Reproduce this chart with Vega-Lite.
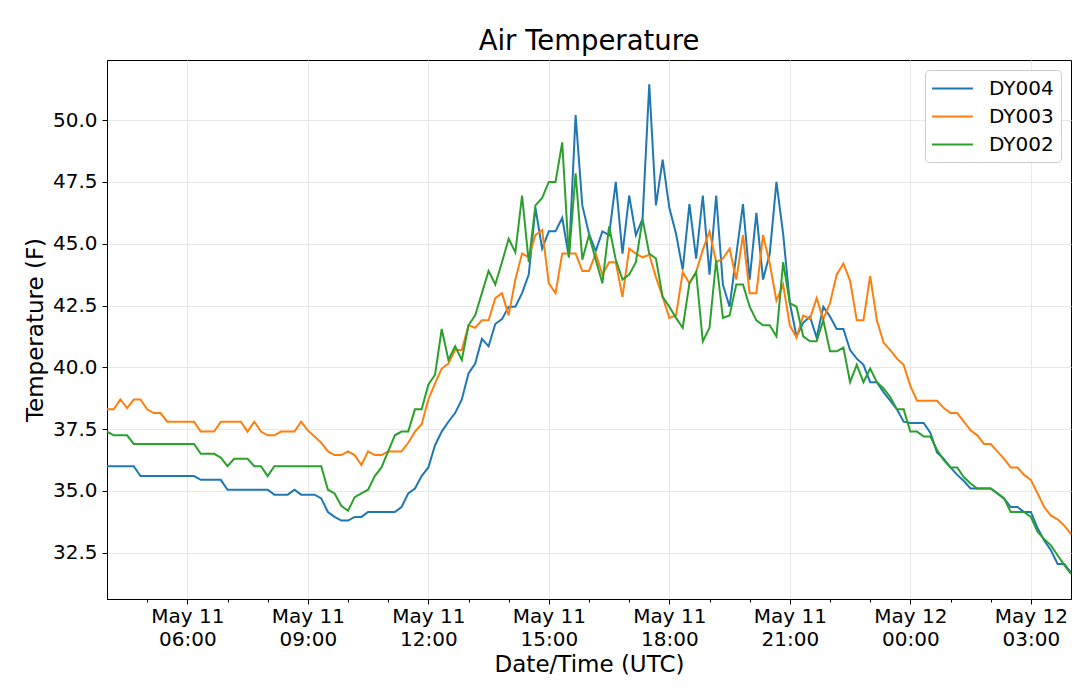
{
  "$schema": "https://vega.github.io/schema/vega-lite/v6.json",
  "width": 964,
  "height": 539,
  "autosize": {"type": "none"},
  "padding": {"left": 107, "top": 60, "right": 8, "bottom": 93},
  "title": {
    "text": "Air Temperature",
    "font": "DejaVu Sans",
    "fontSize": 27.5,
    "fontWeight": "normal",
    "color": "black",
    "offset": 5
  },
  "config": {
    "font": "DejaVu Sans",
    "view": {"stroke": "black", "strokeWidth": 1},
    "axis": {
      "labelFont": "DejaVu Sans",
      "titleFont": "DejaVu Sans",
      "labelFontSize": 20,
      "titleFontSize": 23,
      "titleFontWeight": "normal",
      "labelColor": "black",
      "titleColor": "black",
      "tickColor": "black",
      "domainColor": "black",
      "gridColor": "#e8e8e8",
      "gridWidth": 1
    }
  },
  "data": {
    "values": [
      {"time":"2019-05-11T04:00:00Z","sensor":"DY004","temp":36.0},{"time":"2019-05-11T04:10:00Z","sensor":"DY004","temp":36.0},{"time":"2019-05-11T04:20:00Z","sensor":"DY004","temp":36.0},{"time":"2019-05-11T04:30:00Z","sensor":"DY004","temp":36.0},{"time":"2019-05-11T04:40:00Z","sensor":"DY004","temp":36.0},{"time":"2019-05-11T04:50:00Z","sensor":"DY004","temp":35.6},
      {"time":"2019-05-11T05:00:00Z","sensor":"DY004","temp":35.6},{"time":"2019-05-11T05:10:00Z","sensor":"DY004","temp":35.6},{"time":"2019-05-11T05:20:00Z","sensor":"DY004","temp":35.6},{"time":"2019-05-11T05:30:00Z","sensor":"DY004","temp":35.6},{"time":"2019-05-11T05:40:00Z","sensor":"DY004","temp":35.6},{"time":"2019-05-11T05:50:00Z","sensor":"DY004","temp":35.6},
      {"time":"2019-05-11T06:00:00Z","sensor":"DY004","temp":35.6},{"time":"2019-05-11T06:10:00Z","sensor":"DY004","temp":35.6},{"time":"2019-05-11T06:20:00Z","sensor":"DY004","temp":35.45},{"time":"2019-05-11T06:30:00Z","sensor":"DY004","temp":35.45},{"time":"2019-05-11T06:40:00Z","sensor":"DY004","temp":35.45},{"time":"2019-05-11T06:50:00Z","sensor":"DY004","temp":35.45},
      {"time":"2019-05-11T07:00:00Z","sensor":"DY004","temp":35.05},{"time":"2019-05-11T07:10:00Z","sensor":"DY004","temp":35.05},{"time":"2019-05-11T07:20:00Z","sensor":"DY004","temp":35.05},{"time":"2019-05-11T07:30:00Z","sensor":"DY004","temp":35.05},{"time":"2019-05-11T07:40:00Z","sensor":"DY004","temp":35.05},{"time":"2019-05-11T07:50:00Z","sensor":"DY004","temp":35.05},
      {"time":"2019-05-11T08:00:00Z","sensor":"DY004","temp":35.05},{"time":"2019-05-11T08:10:00Z","sensor":"DY004","temp":34.85},{"time":"2019-05-11T08:20:00Z","sensor":"DY004","temp":34.85},{"time":"2019-05-11T08:30:00Z","sensor":"DY004","temp":34.85},{"time":"2019-05-11T08:40:00Z","sensor":"DY004","temp":35.05},{"time":"2019-05-11T08:50:00Z","sensor":"DY004","temp":34.85},
      {"time":"2019-05-11T09:00:00Z","sensor":"DY004","temp":34.85},{"time":"2019-05-11T09:10:00Z","sensor":"DY004","temp":34.85},{"time":"2019-05-11T09:20:00Z","sensor":"DY004","temp":34.7},{"time":"2019-05-11T09:30:00Z","sensor":"DY004","temp":34.15},{"time":"2019-05-11T09:40:00Z","sensor":"DY004","temp":33.95},{"time":"2019-05-11T09:50:00Z","sensor":"DY004","temp":33.8},
      {"time":"2019-05-11T10:00:00Z","sensor":"DY004","temp":33.8},{"time":"2019-05-11T10:10:00Z","sensor":"DY004","temp":33.95},{"time":"2019-05-11T10:20:00Z","sensor":"DY004","temp":33.95},{"time":"2019-05-11T10:30:00Z","sensor":"DY004","temp":34.15},{"time":"2019-05-11T10:40:00Z","sensor":"DY004","temp":34.15},{"time":"2019-05-11T10:50:00Z","sensor":"DY004","temp":34.15},
      {"time":"2019-05-11T11:00:00Z","sensor":"DY004","temp":34.15},{"time":"2019-05-11T11:10:00Z","sensor":"DY004","temp":34.15},{"time":"2019-05-11T11:20:00Z","sensor":"DY004","temp":34.35},{"time":"2019-05-11T11:30:00Z","sensor":"DY004","temp":34.9},{"time":"2019-05-11T11:40:00Z","sensor":"DY004","temp":35.1},{"time":"2019-05-11T11:50:00Z","sensor":"DY004","temp":35.6},
      {"time":"2019-05-11T12:00:00Z","sensor":"DY004","temp":35.95},{"time":"2019-05-11T12:10:00Z","sensor":"DY004","temp":36.85},{"time":"2019-05-11T12:20:00Z","sensor":"DY004","temp":37.4},{"time":"2019-05-11T12:30:00Z","sensor":"DY004","temp":37.8},{"time":"2019-05-11T12:40:00Z","sensor":"DY004","temp":38.15},{"time":"2019-05-11T12:50:00Z","sensor":"DY004","temp":38.7},
      {"time":"2019-05-11T13:00:00Z","sensor":"DY004","temp":39.75},{"time":"2019-05-11T13:10:00Z","sensor":"DY004","temp":40.15},{"time":"2019-05-11T13:20:00Z","sensor":"DY004","temp":41.15},{"time":"2019-05-11T13:30:00Z","sensor":"DY004","temp":40.85},{"time":"2019-05-11T13:40:00Z","sensor":"DY004","temp":41.75},{"time":"2019-05-11T13:50:00Z","sensor":"DY004","temp":41.95},
      {"time":"2019-05-11T14:00:00Z","sensor":"DY004","temp":42.45},{"time":"2019-05-11T14:10:00Z","sensor":"DY004","temp":42.45},{"time":"2019-05-11T14:20:00Z","sensor":"DY004","temp":43.0},{"time":"2019-05-11T14:30:00Z","sensor":"DY004","temp":43.75},{"time":"2019-05-11T14:40:00Z","sensor":"DY004","temp":46.45},{"time":"2019-05-11T14:50:00Z","sensor":"DY004","temp":44.8},
      {"time":"2019-05-11T15:00:00Z","sensor":"DY004","temp":45.5},{"time":"2019-05-11T15:10:00Z","sensor":"DY004","temp":45.5},{"time":"2019-05-11T15:20:00Z","sensor":"DY004","temp":46.05},{"time":"2019-05-11T15:30:00Z","sensor":"DY004","temp":44.45},{"time":"2019-05-11T15:40:00Z","sensor":"DY004","temp":50.2},{"time":"2019-05-11T15:50:00Z","sensor":"DY004","temp":46.55},
      {"time":"2019-05-11T16:00:00Z","sensor":"DY004","temp":45.4},{"time":"2019-05-11T16:10:00Z","sensor":"DY004","temp":44.7},{"time":"2019-05-11T16:20:00Z","sensor":"DY004","temp":45.5},{"time":"2019-05-11T16:30:00Z","sensor":"DY004","temp":45.35},{"time":"2019-05-11T16:40:00Z","sensor":"DY004","temp":47.5},{"time":"2019-05-11T16:50:00Z","sensor":"DY004","temp":44.6},
      {"time":"2019-05-11T17:00:00Z","sensor":"DY004","temp":46.95},{"time":"2019-05-11T17:10:00Z","sensor":"DY004","temp":45.35},{"time":"2019-05-11T17:20:00Z","sensor":"DY004","temp":46.0},{"time":"2019-05-11T17:30:00Z","sensor":"DY004","temp":51.45},{"time":"2019-05-11T17:40:00Z","sensor":"DY004","temp":46.55},{"time":"2019-05-11T17:50:00Z","sensor":"DY004","temp":48.4},
      {"time":"2019-05-11T18:00:00Z","sensor":"DY004","temp":46.45},{"time":"2019-05-11T18:10:00Z","sensor":"DY004","temp":45.4},{"time":"2019-05-11T18:20:00Z","sensor":"DY004","temp":43.95},{"time":"2019-05-11T18:30:00Z","sensor":"DY004","temp":46.6},{"time":"2019-05-11T18:40:00Z","sensor":"DY004","temp":44.4},{"time":"2019-05-11T18:50:00Z","sensor":"DY004","temp":46.95},
      {"time":"2019-05-11T19:00:00Z","sensor":"DY004","temp":43.75},{"time":"2019-05-11T19:10:00Z","sensor":"DY004","temp":46.95},{"time":"2019-05-11T19:20:00Z","sensor":"DY004","temp":43.35},{"time":"2019-05-11T19:30:00Z","sensor":"DY004","temp":42.45},{"time":"2019-05-11T19:40:00Z","sensor":"DY004","temp":44.55},{"time":"2019-05-11T19:50:00Z","sensor":"DY004","temp":46.6},
      {"time":"2019-05-11T20:00:00Z","sensor":"DY004","temp":43.55},{"time":"2019-05-11T20:10:00Z","sensor":"DY004","temp":46.25},{"time":"2019-05-11T20:20:00Z","sensor":"DY004","temp":43.55},{"time":"2019-05-11T20:30:00Z","sensor":"DY004","temp":44.6},{"time":"2019-05-11T20:40:00Z","sensor":"DY004","temp":47.5},{"time":"2019-05-11T20:50:00Z","sensor":"DY004","temp":45.4},
      {"time":"2019-05-11T21:00:00Z","sensor":"DY004","temp":42.6},{"time":"2019-05-11T21:10:00Z","sensor":"DY004","temp":41.25},{"time":"2019-05-11T21:20:00Z","sensor":"DY004","temp":41.8},{"time":"2019-05-11T21:30:00Z","sensor":"DY004","temp":42.05},{"time":"2019-05-11T21:40:00Z","sensor":"DY004","temp":41.2},{"time":"2019-05-11T21:50:00Z","sensor":"DY004","temp":42.45},
      {"time":"2019-05-11T22:00:00Z","sensor":"DY004","temp":42.05},{"time":"2019-05-11T22:10:00Z","sensor":"DY004","temp":41.55},{"time":"2019-05-11T22:20:00Z","sensor":"DY004","temp":41.55},{"time":"2019-05-11T22:30:00Z","sensor":"DY004","temp":40.7},{"time":"2019-05-11T22:40:00Z","sensor":"DY004","temp":40.35},{"time":"2019-05-11T22:50:00Z","sensor":"DY004","temp":40.1},
      {"time":"2019-05-11T23:00:00Z","sensor":"DY004","temp":39.4},{"time":"2019-05-11T23:10:00Z","sensor":"DY004","temp":39.4},{"time":"2019-05-11T23:20:00Z","sensor":"DY004","temp":39.0},{"time":"2019-05-11T23:30:00Z","sensor":"DY004","temp":38.65},{"time":"2019-05-11T23:40:00Z","sensor":"DY004","temp":38.3},{"time":"2019-05-11T23:50:00Z","sensor":"DY004","temp":37.8},
      {"time":"2019-05-12T00:00:00Z","sensor":"DY004","temp":37.75},{"time":"2019-05-12T00:10:00Z","sensor":"DY004","temp":37.75},{"time":"2019-05-12T00:20:00Z","sensor":"DY004","temp":37.75},{"time":"2019-05-12T00:30:00Z","sensor":"DY004","temp":37.35},{"time":"2019-05-12T00:40:00Z","sensor":"DY004","temp":36.55},{"time":"2019-05-12T00:50:00Z","sensor":"DY004","temp":36.3},
      {"time":"2019-05-12T01:00:00Z","sensor":"DY004","temp":35.95},{"time":"2019-05-12T01:10:00Z","sensor":"DY004","temp":35.65},{"time":"2019-05-12T01:20:00Z","sensor":"DY004","temp":35.4},{"time":"2019-05-12T01:30:00Z","sensor":"DY004","temp":35.1},{"time":"2019-05-12T01:40:00Z","sensor":"DY004","temp":35.1},{"time":"2019-05-12T01:50:00Z","sensor":"DY004","temp":35.1},
      {"time":"2019-05-12T02:00:00Z","sensor":"DY004","temp":35.1},{"time":"2019-05-12T02:10:00Z","sensor":"DY004","temp":34.9},{"time":"2019-05-12T02:20:00Z","sensor":"DY004","temp":34.7},{"time":"2019-05-12T02:30:00Z","sensor":"DY004","temp":34.35},{"time":"2019-05-12T02:40:00Z","sensor":"DY004","temp":34.35},{"time":"2019-05-12T02:50:00Z","sensor":"DY004","temp":34.15},
      {"time":"2019-05-12T03:00:00Z","sensor":"DY004","temp":34.15},{"time":"2019-05-12T03:10:00Z","sensor":"DY004","temp":33.5},{"time":"2019-05-12T03:20:00Z","sensor":"DY004","temp":33.0},{"time":"2019-05-12T03:30:00Z","sensor":"DY004","temp":32.6},{"time":"2019-05-12T03:40:00Z","sensor":"DY004","temp":32.05},{"time":"2019-05-12T03:50:00Z","sensor":"DY004","temp":32.05},
      {"time":"2019-05-12T04:00:00Z","sensor":"DY004","temp":31.7},

      {"time":"2019-05-11T04:00:00Z","sensor":"DY003","temp":38.3},{"time":"2019-05-11T04:10:00Z","sensor":"DY003","temp":38.3},{"time":"2019-05-11T04:20:00Z","sensor":"DY003","temp":38.7},{"time":"2019-05-11T04:30:00Z","sensor":"DY003","temp":38.35},{"time":"2019-05-11T04:40:00Z","sensor":"DY003","temp":38.7},{"time":"2019-05-11T04:50:00Z","sensor":"DY003","temp":38.7},
      {"time":"2019-05-11T05:00:00Z","sensor":"DY003","temp":38.3},{"time":"2019-05-11T05:10:00Z","sensor":"DY003","temp":38.15},{"time":"2019-05-11T05:20:00Z","sensor":"DY003","temp":38.15},{"time":"2019-05-11T05:30:00Z","sensor":"DY003","temp":37.8},{"time":"2019-05-11T05:40:00Z","sensor":"DY003","temp":37.8},{"time":"2019-05-11T05:50:00Z","sensor":"DY003","temp":37.8},
      {"time":"2019-05-11T06:00:00Z","sensor":"DY003","temp":37.8},{"time":"2019-05-11T06:10:00Z","sensor":"DY003","temp":37.8},{"time":"2019-05-11T06:20:00Z","sensor":"DY003","temp":37.4},{"time":"2019-05-11T06:30:00Z","sensor":"DY003","temp":37.4},{"time":"2019-05-11T06:40:00Z","sensor":"DY003","temp":37.4},{"time":"2019-05-11T06:50:00Z","sensor":"DY003","temp":37.8},
      {"time":"2019-05-11T07:00:00Z","sensor":"DY003","temp":37.8},{"time":"2019-05-11T07:10:00Z","sensor":"DY003","temp":37.8},{"time":"2019-05-11T07:20:00Z","sensor":"DY003","temp":37.8},{"time":"2019-05-11T07:30:00Z","sensor":"DY003","temp":37.4},{"time":"2019-05-11T07:40:00Z","sensor":"DY003","temp":37.8},{"time":"2019-05-11T07:50:00Z","sensor":"DY003","temp":37.4},
      {"time":"2019-05-11T08:00:00Z","sensor":"DY003","temp":37.25},{"time":"2019-05-11T08:10:00Z","sensor":"DY003","temp":37.25},{"time":"2019-05-11T08:20:00Z","sensor":"DY003","temp":37.4},{"time":"2019-05-11T08:30:00Z","sensor":"DY003","temp":37.4},{"time":"2019-05-11T08:40:00Z","sensor":"DY003","temp":37.4},{"time":"2019-05-11T08:50:00Z","sensor":"DY003","temp":37.8},
      {"time":"2019-05-11T09:00:00Z","sensor":"DY003","temp":37.45},{"time":"2019-05-11T09:10:00Z","sensor":"DY003","temp":37.2},{"time":"2019-05-11T09:20:00Z","sensor":"DY003","temp":36.95},{"time":"2019-05-11T09:30:00Z","sensor":"DY003","temp":36.6},{"time":"2019-05-11T09:40:00Z","sensor":"DY003","temp":36.45},{"time":"2019-05-11T09:50:00Z","sensor":"DY003","temp":36.45},
      {"time":"2019-05-11T10:00:00Z","sensor":"DY003","temp":36.6},{"time":"2019-05-11T10:10:00Z","sensor":"DY003","temp":36.45},{"time":"2019-05-11T10:20:00Z","sensor":"DY003","temp":36.05},{"time":"2019-05-11T10:30:00Z","sensor":"DY003","temp":36.6},{"time":"2019-05-11T10:40:00Z","sensor":"DY003","temp":36.45},{"time":"2019-05-11T10:50:00Z","sensor":"DY003","temp":36.45},
      {"time":"2019-05-11T11:00:00Z","sensor":"DY003","temp":36.6},{"time":"2019-05-11T11:10:00Z","sensor":"DY003","temp":36.6},{"time":"2019-05-11T11:20:00Z","sensor":"DY003","temp":36.6},{"time":"2019-05-11T11:30:00Z","sensor":"DY003","temp":36.95},{"time":"2019-05-11T11:40:00Z","sensor":"DY003","temp":37.4},{"time":"2019-05-11T11:50:00Z","sensor":"DY003","temp":37.7},
      {"time":"2019-05-11T12:00:00Z","sensor":"DY003","temp":38.7},{"time":"2019-05-11T12:10:00Z","sensor":"DY003","temp":39.35},{"time":"2019-05-11T12:20:00Z","sensor":"DY003","temp":39.95},{"time":"2019-05-11T12:30:00Z","sensor":"DY003","temp":40.15},{"time":"2019-05-11T12:40:00Z","sensor":"DY003","temp":40.7},{"time":"2019-05-11T12:50:00Z","sensor":"DY003","temp":40.7},
      {"time":"2019-05-11T13:00:00Z","sensor":"DY003","temp":41.7},{"time":"2019-05-11T13:10:00Z","sensor":"DY003","temp":41.6},{"time":"2019-05-11T13:20:00Z","sensor":"DY003","temp":41.9},{"time":"2019-05-11T13:30:00Z","sensor":"DY003","temp":41.9},{"time":"2019-05-11T13:40:00Z","sensor":"DY003","temp":42.8},{"time":"2019-05-11T13:50:00Z","sensor":"DY003","temp":43.0},
      {"time":"2019-05-11T14:00:00Z","sensor":"DY003","temp":42.1},{"time":"2019-05-11T14:10:00Z","sensor":"DY003","temp":43.55},{"time":"2019-05-11T14:20:00Z","sensor":"DY003","temp":44.6},{"time":"2019-05-11T14:30:00Z","sensor":"DY003","temp":44.45},{"time":"2019-05-11T14:40:00Z","sensor":"DY003","temp":45.35},{"time":"2019-05-11T14:50:00Z","sensor":"DY003","temp":45.55},
      {"time":"2019-05-11T15:00:00Z","sensor":"DY003","temp":43.4},{"time":"2019-05-11T15:10:00Z","sensor":"DY003","temp":43.0},{"time":"2019-05-11T15:20:00Z","sensor":"DY003","temp":44.6},{"time":"2019-05-11T15:30:00Z","sensor":"DY003","temp":44.6},{"time":"2019-05-11T15:40:00Z","sensor":"DY003","temp":44.6},{"time":"2019-05-11T15:50:00Z","sensor":"DY003","temp":43.9},
      {"time":"2019-05-11T16:00:00Z","sensor":"DY003","temp":43.9},{"time":"2019-05-11T16:10:00Z","sensor":"DY003","temp":44.6},{"time":"2019-05-11T16:20:00Z","sensor":"DY003","temp":43.75},{"time":"2019-05-11T16:30:00Z","sensor":"DY003","temp":44.25},{"time":"2019-05-11T16:40:00Z","sensor":"DY003","temp":44.25},{"time":"2019-05-11T16:50:00Z","sensor":"DY003","temp":42.85},
      {"time":"2019-05-11T17:00:00Z","sensor":"DY003","temp":44.8},{"time":"2019-05-11T17:10:00Z","sensor":"DY003","temp":44.6},{"time":"2019-05-11T17:20:00Z","sensor":"DY003","temp":44.45},{"time":"2019-05-11T17:30:00Z","sensor":"DY003","temp":44.55},{"time":"2019-05-11T17:40:00Z","sensor":"DY003","temp":43.65},{"time":"2019-05-11T17:50:00Z","sensor":"DY003","temp":42.85},
      {"time":"2019-05-11T18:00:00Z","sensor":"DY003","temp":42.0},{"time":"2019-05-11T18:10:00Z","sensor":"DY003","temp":42.1},{"time":"2019-05-11T18:20:00Z","sensor":"DY003","temp":43.85},{"time":"2019-05-11T18:30:00Z","sensor":"DY003","temp":43.4},{"time":"2019-05-11T18:40:00Z","sensor":"DY003","temp":43.85},{"time":"2019-05-11T18:50:00Z","sensor":"DY003","temp":44.75},
      {"time":"2019-05-11T19:00:00Z","sensor":"DY003","temp":45.5},{"time":"2019-05-11T19:10:00Z","sensor":"DY003","temp":44.25},{"time":"2019-05-11T19:20:00Z","sensor":"DY003","temp":44.4},{"time":"2019-05-11T19:30:00Z","sensor":"DY003","temp":44.8},{"time":"2019-05-11T19:40:00Z","sensor":"DY003","temp":43.55},{"time":"2019-05-11T19:50:00Z","sensor":"DY003","temp":45.35},
      {"time":"2019-05-11T20:00:00Z","sensor":"DY003","temp":43.0},{"time":"2019-05-11T20:10:00Z","sensor":"DY003","temp":43.0},{"time":"2019-05-11T20:20:00Z","sensor":"DY003","temp":45.35},{"time":"2019-05-11T20:30:00Z","sensor":"DY003","temp":44.2},{"time":"2019-05-11T20:40:00Z","sensor":"DY003","temp":42.7},{"time":"2019-05-11T20:50:00Z","sensor":"DY003","temp":43.35},
      {"time":"2019-05-11T21:00:00Z","sensor":"DY003","temp":41.7},{"time":"2019-05-11T21:10:00Z","sensor":"DY003","temp":41.2},{"time":"2019-05-11T21:20:00Z","sensor":"DY003","temp":42.1},{"time":"2019-05-11T21:30:00Z","sensor":"DY003","temp":41.95},{"time":"2019-05-11T21:40:00Z","sensor":"DY003","temp":42.8},{"time":"2019-05-11T21:50:00Z","sensor":"DY003","temp":41.95},
      {"time":"2019-05-11T22:00:00Z","sensor":"DY003","temp":42.6},{"time":"2019-05-11T22:10:00Z","sensor":"DY003","temp":43.75},{"time":"2019-05-11T22:20:00Z","sensor":"DY003","temp":44.2},{"time":"2019-05-11T22:30:00Z","sensor":"DY003","temp":43.5},{"time":"2019-05-11T22:40:00Z","sensor":"DY003","temp":41.9},{"time":"2019-05-11T22:50:00Z","sensor":"DY003","temp":41.9},
      {"time":"2019-05-11T23:00:00Z","sensor":"DY003","temp":43.7},{"time":"2019-05-11T23:10:00Z","sensor":"DY003","temp":41.9},{"time":"2019-05-11T23:20:00Z","sensor":"DY003","temp":41.0},{"time":"2019-05-11T23:30:00Z","sensor":"DY003","temp":40.7},{"time":"2019-05-11T23:40:00Z","sensor":"DY003","temp":40.35},{"time":"2019-05-11T23:50:00Z","sensor":"DY003","temp":40.1},
      {"time":"2019-05-12T00:00:00Z","sensor":"DY003","temp":39.25},{"time":"2019-05-12T00:10:00Z","sensor":"DY003","temp":38.65},{"time":"2019-05-12T00:20:00Z","sensor":"DY003","temp":38.65},{"time":"2019-05-12T00:30:00Z","sensor":"DY003","temp":38.65},{"time":"2019-05-12T00:40:00Z","sensor":"DY003","temp":38.65},{"time":"2019-05-12T00:50:00Z","sensor":"DY003","temp":38.35},
      {"time":"2019-05-12T01:00:00Z","sensor":"DY003","temp":38.15},{"time":"2019-05-12T01:10:00Z","sensor":"DY003","temp":38.15},{"time":"2019-05-12T01:20:00Z","sensor":"DY003","temp":37.8},{"time":"2019-05-12T01:30:00Z","sensor":"DY003","temp":37.45},{"time":"2019-05-12T01:40:00Z","sensor":"DY003","temp":37.25},{"time":"2019-05-12T01:50:00Z","sensor":"DY003","temp":36.9},
      {"time":"2019-05-12T02:00:00Z","sensor":"DY003","temp":36.9},{"time":"2019-05-12T02:10:00Z","sensor":"DY003","temp":36.6},{"time":"2019-05-12T02:20:00Z","sensor":"DY003","temp":36.3},{"time":"2019-05-12T02:30:00Z","sensor":"DY003","temp":35.95},{"time":"2019-05-12T02:40:00Z","sensor":"DY003","temp":35.95},{"time":"2019-05-12T02:50:00Z","sensor":"DY003","temp":35.65},
      {"time":"2019-05-12T03:00:00Z","sensor":"DY003","temp":35.45},{"time":"2019-05-12T03:10:00Z","sensor":"DY003","temp":34.9},{"time":"2019-05-12T03:20:00Z","sensor":"DY003","temp":34.35},{"time":"2019-05-12T03:30:00Z","sensor":"DY003","temp":34.0},{"time":"2019-05-12T03:40:00Z","sensor":"DY003","temp":33.85},{"time":"2019-05-12T03:50:00Z","sensor":"DY003","temp":33.6},
      {"time":"2019-05-12T04:00:00Z","sensor":"DY003","temp":33.25},

      {"time":"2019-05-11T04:00:00Z","sensor":"DY002","temp":37.4},{"time":"2019-05-11T04:10:00Z","sensor":"DY002","temp":37.25},{"time":"2019-05-11T04:20:00Z","sensor":"DY002","temp":37.25},{"time":"2019-05-11T04:30:00Z","sensor":"DY002","temp":37.25},{"time":"2019-05-11T04:40:00Z","sensor":"DY002","temp":36.9},{"time":"2019-05-11T04:50:00Z","sensor":"DY002","temp":36.9},
      {"time":"2019-05-11T05:00:00Z","sensor":"DY002","temp":36.9},{"time":"2019-05-11T05:10:00Z","sensor":"DY002","temp":36.9},{"time":"2019-05-11T05:20:00Z","sensor":"DY002","temp":36.9},{"time":"2019-05-11T05:30:00Z","sensor":"DY002","temp":36.9},{"time":"2019-05-11T05:40:00Z","sensor":"DY002","temp":36.9},{"time":"2019-05-11T05:50:00Z","sensor":"DY002","temp":36.9},
      {"time":"2019-05-11T06:00:00Z","sensor":"DY002","temp":36.9},{"time":"2019-05-11T06:10:00Z","sensor":"DY002","temp":36.9},{"time":"2019-05-11T06:20:00Z","sensor":"DY002","temp":36.5},{"time":"2019-05-11T06:30:00Z","sensor":"DY002","temp":36.5},{"time":"2019-05-11T06:40:00Z","sensor":"DY002","temp":36.5},{"time":"2019-05-11T06:50:00Z","sensor":"DY002","temp":36.35},
      {"time":"2019-05-11T07:00:00Z","sensor":"DY002","temp":36.0},{"time":"2019-05-11T07:10:00Z","sensor":"DY002","temp":36.3},{"time":"2019-05-11T07:20:00Z","sensor":"DY002","temp":36.3},{"time":"2019-05-11T07:30:00Z","sensor":"DY002","temp":36.3},{"time":"2019-05-11T07:40:00Z","sensor":"DY002","temp":36.0},{"time":"2019-05-11T07:50:00Z","sensor":"DY002","temp":36.0},
      {"time":"2019-05-11T08:00:00Z","sensor":"DY002","temp":35.6},{"time":"2019-05-11T08:10:00Z","sensor":"DY002","temp":36.0},{"time":"2019-05-11T08:20:00Z","sensor":"DY002","temp":36.0},{"time":"2019-05-11T08:30:00Z","sensor":"DY002","temp":36.0},{"time":"2019-05-11T08:40:00Z","sensor":"DY002","temp":36.0},{"time":"2019-05-11T08:50:00Z","sensor":"DY002","temp":36.0},
      {"time":"2019-05-11T09:00:00Z","sensor":"DY002","temp":36.0},{"time":"2019-05-11T09:10:00Z","sensor":"DY002","temp":36.0},{"time":"2019-05-11T09:20:00Z","sensor":"DY002","temp":36.0},{"time":"2019-05-11T09:30:00Z","sensor":"DY002","temp":35.05},{"time":"2019-05-11T09:40:00Z","sensor":"DY002","temp":34.9},{"time":"2019-05-11T09:50:00Z","sensor":"DY002","temp":34.4},
      {"time":"2019-05-11T10:00:00Z","sensor":"DY002","temp":34.2},{"time":"2019-05-11T10:10:00Z","sensor":"DY002","temp":34.75},{"time":"2019-05-11T10:20:00Z","sensor":"DY002","temp":34.9},{"time":"2019-05-11T10:30:00Z","sensor":"DY002","temp":35.05},{"time":"2019-05-11T10:40:00Z","sensor":"DY002","temp":35.6},{"time":"2019-05-11T10:50:00Z","sensor":"DY002","temp":35.95},
      {"time":"2019-05-11T11:00:00Z","sensor":"DY002","temp":36.6},{"time":"2019-05-11T11:10:00Z","sensor":"DY002","temp":37.25},{"time":"2019-05-11T11:20:00Z","sensor":"DY002","temp":37.4},{"time":"2019-05-11T11:30:00Z","sensor":"DY002","temp":37.4},{"time":"2019-05-11T11:40:00Z","sensor":"DY002","temp":38.3},{"time":"2019-05-11T11:50:00Z","sensor":"DY002","temp":38.3},
      {"time":"2019-05-11T12:00:00Z","sensor":"DY002","temp":39.3},{"time":"2019-05-11T12:10:00Z","sensor":"DY002","temp":39.7},{"time":"2019-05-11T12:20:00Z","sensor":"DY002","temp":41.55},{"time":"2019-05-11T12:30:00Z","sensor":"DY002","temp":40.3},{"time":"2019-05-11T12:40:00Z","sensor":"DY002","temp":40.85},{"time":"2019-05-11T12:50:00Z","sensor":"DY002","temp":40.3},
      {"time":"2019-05-11T13:00:00Z","sensor":"DY002","temp":41.7},{"time":"2019-05-11T13:10:00Z","sensor":"DY002","temp":42.1},{"time":"2019-05-11T13:20:00Z","sensor":"DY002","temp":43.0},{"time":"2019-05-11T13:30:00Z","sensor":"DY002","temp":43.9},{"time":"2019-05-11T13:40:00Z","sensor":"DY002","temp":43.35},{"time":"2019-05-11T13:50:00Z","sensor":"DY002","temp":44.25},
      {"time":"2019-05-11T14:00:00Z","sensor":"DY002","temp":45.2},{"time":"2019-05-11T14:10:00Z","sensor":"DY002","temp":44.65},{"time":"2019-05-11T14:20:00Z","sensor":"DY002","temp":46.95},{"time":"2019-05-11T14:30:00Z","sensor":"DY002","temp":44.25},{"time":"2019-05-11T14:40:00Z","sensor":"DY002","temp":46.55},{"time":"2019-05-11T14:50:00Z","sensor":"DY002","temp":46.85},
      {"time":"2019-05-11T15:00:00Z","sensor":"DY002","temp":47.5},{"time":"2019-05-11T15:10:00Z","sensor":"DY002","temp":47.5},{"time":"2019-05-11T15:20:00Z","sensor":"DY002","temp":49.1},{"time":"2019-05-11T15:30:00Z","sensor":"DY002","temp":44.45},{"time":"2019-05-11T15:40:00Z","sensor":"DY002","temp":47.85},{"time":"2019-05-11T15:50:00Z","sensor":"DY002","temp":44.35},
      {"time":"2019-05-11T16:00:00Z","sensor":"DY002","temp":45.35},{"time":"2019-05-11T16:10:00Z","sensor":"DY002","temp":44.35},{"time":"2019-05-11T16:20:00Z","sensor":"DY002","temp":43.4},{"time":"2019-05-11T16:30:00Z","sensor":"DY002","temp":45.7},{"time":"2019-05-11T16:40:00Z","sensor":"DY002","temp":44.35},{"time":"2019-05-11T16:50:00Z","sensor":"DY002","temp":43.55},
      {"time":"2019-05-11T17:00:00Z","sensor":"DY002","temp":43.75},{"time":"2019-05-11T17:10:00Z","sensor":"DY002","temp":44.25},{"time":"2019-05-11T17:20:00Z","sensor":"DY002","temp":46.0},{"time":"2019-05-11T17:30:00Z","sensor":"DY002","temp":44.6},{"time":"2019-05-11T17:40:00Z","sensor":"DY002","temp":44.4},{"time":"2019-05-11T17:50:00Z","sensor":"DY002","temp":42.85},
      {"time":"2019-05-11T18:00:00Z","sensor":"DY002","temp":42.45},{"time":"2019-05-11T18:10:00Z","sensor":"DY002","temp":42.0},{"time":"2019-05-11T18:20:00Z","sensor":"DY002","temp":41.6},{"time":"2019-05-11T18:30:00Z","sensor":"DY002","temp":43.4},{"time":"2019-05-11T18:40:00Z","sensor":"DY002","temp":43.85},{"time":"2019-05-11T18:50:00Z","sensor":"DY002","temp":41.05},
      {"time":"2019-05-11T19:00:00Z","sensor":"DY002","temp":41.6},{"time":"2019-05-11T19:10:00Z","sensor":"DY002","temp":44.35},{"time":"2019-05-11T19:20:00Z","sensor":"DY002","temp":42.0},{"time":"2019-05-11T19:30:00Z","sensor":"DY002","temp":42.1},{"time":"2019-05-11T19:40:00Z","sensor":"DY002","temp":43.35},{"time":"2019-05-11T19:50:00Z","sensor":"DY002","temp":43.35},
      {"time":"2019-05-11T20:00:00Z","sensor":"DY002","temp":42.45},{"time":"2019-05-11T20:10:00Z","sensor":"DY002","temp":41.9},{"time":"2019-05-11T20:20:00Z","sensor":"DY002","temp":41.7},{"time":"2019-05-11T20:30:00Z","sensor":"DY002","temp":41.7},{"time":"2019-05-11T20:40:00Z","sensor":"DY002","temp":41.25},{"time":"2019-05-11T20:50:00Z","sensor":"DY002","temp":44.25},
      {"time":"2019-05-11T21:00:00Z","sensor":"DY002","temp":42.6},{"time":"2019-05-11T21:10:00Z","sensor":"DY002","temp":42.45},{"time":"2019-05-11T21:20:00Z","sensor":"DY002","temp":41.25},{"time":"2019-05-11T21:30:00Z","sensor":"DY002","temp":41.05},{"time":"2019-05-11T21:40:00Z","sensor":"DY002","temp":41.05},{"time":"2019-05-11T21:50:00Z","sensor":"DY002","temp":41.9},
      {"time":"2019-05-11T22:00:00Z","sensor":"DY002","temp":40.65},{"time":"2019-05-11T22:10:00Z","sensor":"DY002","temp":40.65},{"time":"2019-05-11T22:20:00Z","sensor":"DY002","temp":40.8},{"time":"2019-05-11T22:30:00Z","sensor":"DY002","temp":39.4},{"time":"2019-05-11T22:40:00Z","sensor":"DY002","temp":40.1},{"time":"2019-05-11T22:50:00Z","sensor":"DY002","temp":39.4},
      {"time":"2019-05-11T23:00:00Z","sensor":"DY002","temp":39.95},{"time":"2019-05-11T23:10:00Z","sensor":"DY002","temp":39.4},{"time":"2019-05-11T23:20:00Z","sensor":"DY002","temp":39.15},{"time":"2019-05-11T23:30:00Z","sensor":"DY002","temp":38.8},{"time":"2019-05-11T23:40:00Z","sensor":"DY002","temp":38.3},{"time":"2019-05-11T23:50:00Z","sensor":"DY002","temp":38.3},
      {"time":"2019-05-12T00:00:00Z","sensor":"DY002","temp":37.4},{"time":"2019-05-12T00:10:00Z","sensor":"DY002","temp":37.4},{"time":"2019-05-12T00:20:00Z","sensor":"DY002","temp":37.2},{"time":"2019-05-12T00:30:00Z","sensor":"DY002","temp":37.2},{"time":"2019-05-12T00:40:00Z","sensor":"DY002","temp":36.65},{"time":"2019-05-12T00:50:00Z","sensor":"DY002","temp":36.25},
      {"time":"2019-05-12T01:00:00Z","sensor":"DY002","temp":35.95},{"time":"2019-05-12T01:10:00Z","sensor":"DY002","temp":35.95},{"time":"2019-05-12T01:20:00Z","sensor":"DY002","temp":35.55},{"time":"2019-05-12T01:30:00Z","sensor":"DY002","temp":35.3},{"time":"2019-05-12T01:40:00Z","sensor":"DY002","temp":35.1},{"time":"2019-05-12T01:50:00Z","sensor":"DY002","temp":35.1},
      {"time":"2019-05-12T02:00:00Z","sensor":"DY002","temp":35.1},{"time":"2019-05-12T02:10:00Z","sensor":"DY002","temp":34.9},{"time":"2019-05-12T02:20:00Z","sensor":"DY002","temp":34.7},{"time":"2019-05-12T02:30:00Z","sensor":"DY002","temp":34.15},{"time":"2019-05-12T02:40:00Z","sensor":"DY002","temp":34.15},{"time":"2019-05-12T02:50:00Z","sensor":"DY002","temp":34.15},
      {"time":"2019-05-12T03:00:00Z","sensor":"DY002","temp":33.95},{"time":"2019-05-12T03:10:00Z","sensor":"DY002","temp":33.35},{"time":"2019-05-12T03:20:00Z","sensor":"DY002","temp":33.05},{"time":"2019-05-12T03:30:00Z","sensor":"DY002","temp":32.8},{"time":"2019-05-12T03:40:00Z","sensor":"DY002","temp":32.4},{"time":"2019-05-12T03:50:00Z","sensor":"DY002","temp":32.0},
      {"time":"2019-05-12T04:00:00Z","sensor":"DY002","temp":31.65}
    ]
  },
  "mark": {"type": "line", "strokeWidth": 2},
  "encoding": {
    "x": {
      "field": "time",
      "type": "temporal",
      "scale": {
        "type": "utc",
        "nice": false,
        "domain": [1557547200000, 1557633600000]
      },
      "axis": {
        "title": "Date/Time (UTC)",
        "values": [1557550800000, 1557554400000, 1557558000000, 1557561600000, 1557565200000, 1557568800000, 1557572400000, 1557576000000, 1557579600000, 1557583200000, 1557586800000, 1557590400000, 1557594000000, 1557597600000, 1557601200000, 1557604800000, 1557608400000, 1557612000000, 1557615600000, 1557619200000, 1557622800000, 1557626400000, 1557630000000],
        "labelExpr": "utchours(datum.value) % 3 == 0 ? [utcFormat(datum.value, '%b %d'), utcFormat(datum.value, '%H:%M')] : ''",
        "labelLineHeight": 23.5,
        "labelOverlap": false,
        "labelFlush": false,
        "labelPadding": 2,
        "tickSize": 5,
        "tickDash": {"condition": {"test": "utchours(datum.value) % 3 == 0", "value": [6, 0]}, "value": [3, 6]},
        "gridOpacity": {"condition": {"test": "utchours(datum.value) % 3 == 0", "value": 1}, "value": 0},
        "titlePadding": 4
      }
    },
    "y": {
      "field": "temp",
      "type": "quantitative",
      "scale": {"domain": [30.63, 52.43], "zero": false, "nice": false},
      "axis": {
        "title": "Temperature (F)",
        "values": [32.5, 35, 37.5, 40, 42.5, 45, 47.5, 50],
        "format": ".1f",
        "tickSize": 5,
        "labelPadding": 5,
        "titlePadding": 5
      }
    },
    "color": {
      "field": "sensor",
      "type": "nominal",
      "sort": null,
      "scale": {"domain": ["DY004", "DY003", "DY002"], "range": ["#1f77b4", "#ff7f0e", "#2ca02c"]},
      "legend": {
        "title": null,
        "orient": "top-right",
        "offset": 10,
        "symbolType": "M-1.1,0H2.8",
        "symbolSize": 441,
        "symbolStrokeWidth": 2,
        "labelFontSize": 20,
        "labelFont": "DejaVu Sans",
        "labelColor": "black",
        "labelExpr": "datum.label + '\u2002'",
        "labelOffset": 34,
        "rowPadding": 6,
        "padding": 7,
        "fillColor": "white",
        "strokeColor": "#cccccc",
        "cornerRadius": 4
      }
    }
  }
}
